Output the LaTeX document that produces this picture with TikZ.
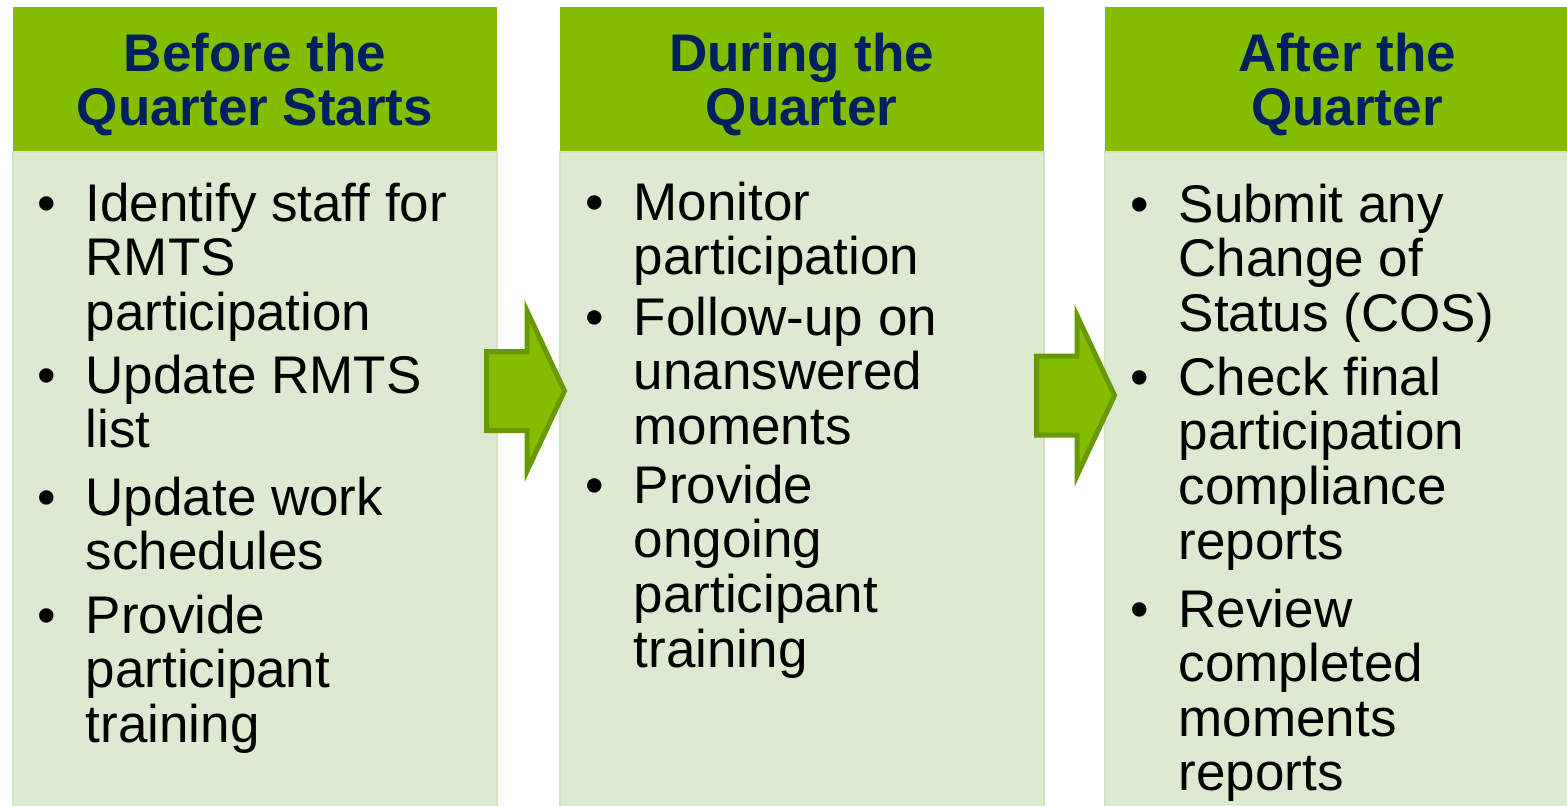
\documentclass[tikz,border=0pt]{standalone}
\usepackage{fontspec}
\setmainfont{Liberation Sans}
\usetikzlibrary{positioning}
\definecolor{headgreen}{HTML}{84BD00}
\definecolor{bodygreen}{HTML}{DDEAD1}
\definecolor{bodyedge}{HTML}{D3E4C5}
\definecolor{arrowedge}{HTML}{669A00}
\definecolor{titleblue}{HTML}{002060}
\newcommand{\txtlines}[2][l]{\begin{tabular}[t]{@{}#1@{}}#2\end{tabular}}

\begin{document}
\begin{tikzpicture}
[x=1pt,y=-1pt,
headbox/.style={shape=rectangle,fill=headgreen,minimum width=484pt,
	minimum height=145pt,inner sep=0pt,outer sep=0pt},
bodybox/.style={shape=rectangle,fill=bodygreen,draw=bodyedge,line width=2pt,
	minimum width=484pt,minimum height=670pt,inner sep=0pt,outer sep=0pt},
title/.style={font=\fontsize{53}{54}\selectfont\bfseries,text=titleblue,
	inner sep=0pt,anchor=base},
item/.style={font=\fontsize{53}{54.5}\selectfont,inner sep=0pt,
	anchor=base west},
dot/.style={font=\fontsize{53}{54.5}\selectfont,inner sep=0pt,anchor=base},
blockarrow/.style={draw=arrowedge,fill=headgreen,line width=5pt,line join=miter}]
\useasboundingbox (0,0) rectangle (1567,806);

\node[headbox] (h1) at (255,79.5) {};
\node[headbox] (h2) at (801.5,79.5) {};
\node[headbox] (h3) at (1347,79.5) {};
\node[bodybox,below=0pt of h1] (b1) {};
\node[bodybox,below=0pt of h2] (b2) {};
\node[bodybox,below=0pt of h3] (b3) {};

\node[title] (t1) at (255,71) {\txtlines[c]{Before the\\Quarter Starts}};
\node[title] (t2) at (801.5,71) {\txtlines[c]{During the\\Quarter}};
\node[title] (t3) at (1347,71) {\txtlines[c]{After the\\Quarter}};

\foreach \by/\txt [count=\i] in {221/{Identify staff for\\RMTS\\participation},
	393/{Update RMTS\\list},515/{Update work\\schedules},
	633/{Provide\\participant\\training}}
{
	\node[dot] (d1-\i) at (47,\by) {\textbullet};
	\node[item] (i1-\i) at (85.5,\by) {\txtlines{\txt}};
}
\foreach \by/\txt [count=\i] in {220/{Monitor\\participation},
	335/{Follow-up on\\unanswered\\moments},
	503/{Provide\\ongoing\\participant\\training}}
{
	\node[dot] (d2-\i) at (595,\by) {\textbullet};
	\node[item] (i2-\i) at (633.5,\by) {\txtlines{\txt}};
}
\foreach \by/\txt [count=\i] in {222/{Submit any\\Change of\\Status (COS)},
	395/{Check final\\participation\\compliance\\reports},
	627/{Review\\completed\\moments\\reports}}
{
	\node[dot] (d3-\i) at (1140,\by) {\textbullet};
	\node[item] (i3-\i) at (1178.5,\by) {\txtlines{\txt}};
}

\foreach \ax/\ay in {486.5/391,1036.5/395.5}
{
	\draw[blockarrow] (\ax,\ay-39.5) -- (\ax+40.5,\ay-39.5) -- (\ax+40.5,\ay-80)
	-- (\ax+78,\ay) -- (\ax+40.5,\ay+80) -- (\ax+40.5,\ay+39.5)
	-- (\ax,\ay+39.5) -- cycle;
}
\end{tikzpicture}
\end{document}
